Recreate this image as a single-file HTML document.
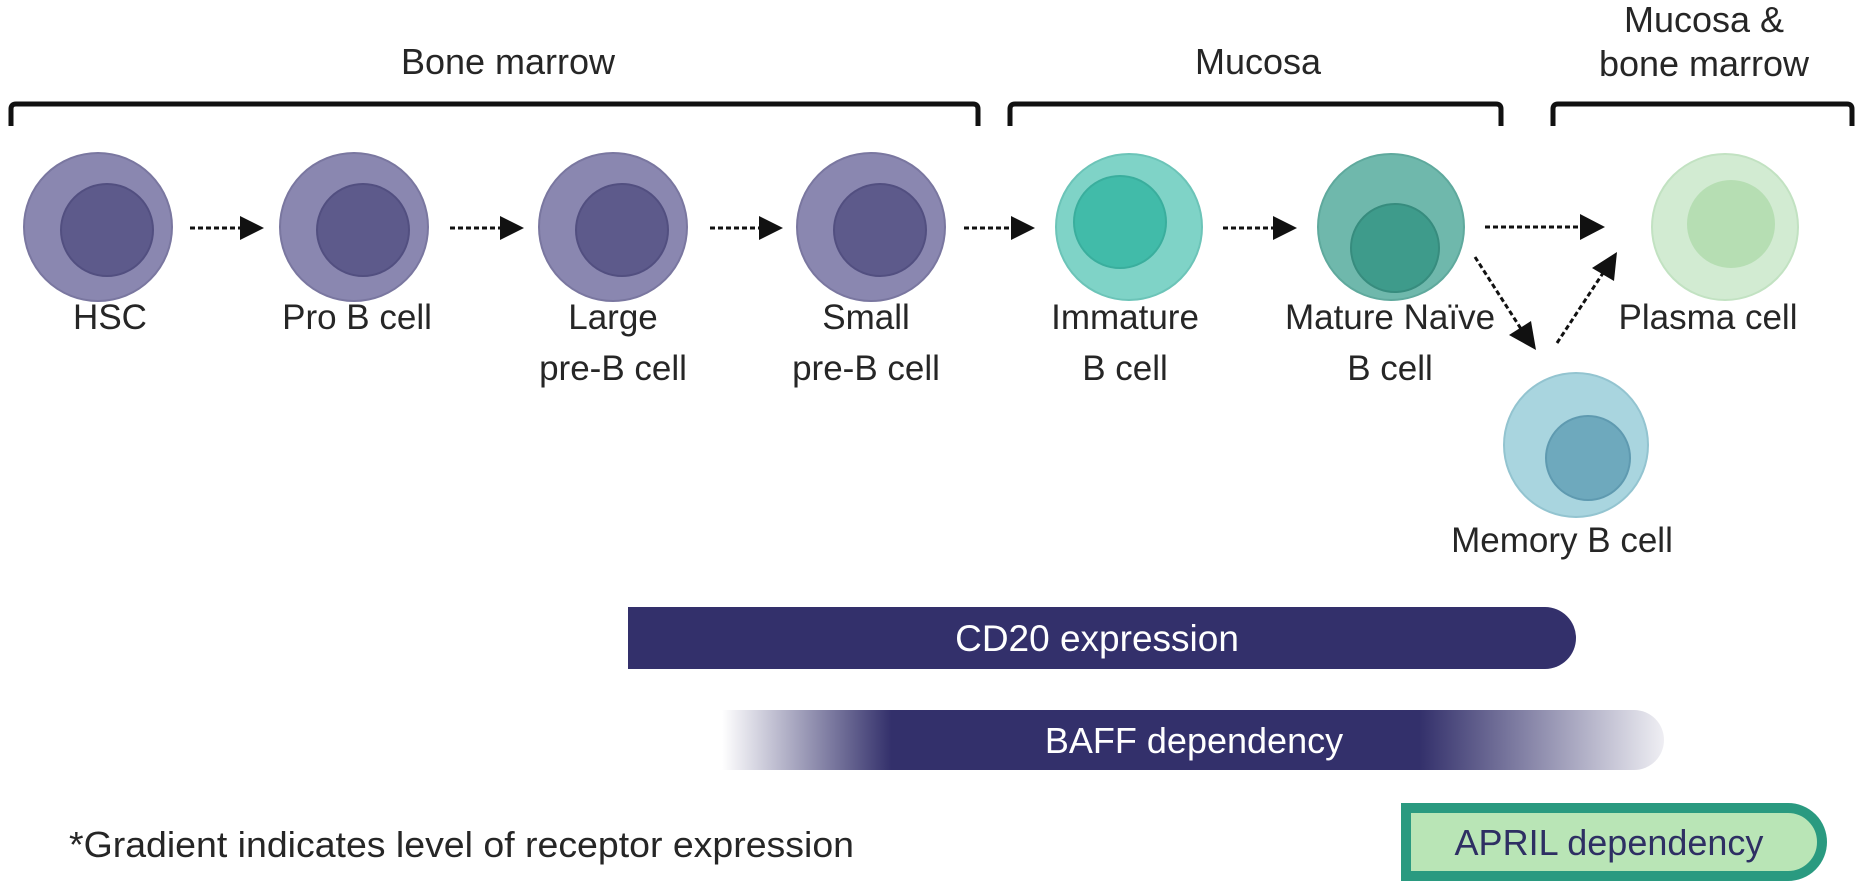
<!DOCTYPE html>
<html><head><meta charset="utf-8"><style>
html,body{margin:0;padding:0;background:#fff;}
svg{display:block;}
text{font-family:"Liberation Sans",Arial,sans-serif;fill:#262626;}
</style></head><body>
<svg width="1857" height="892" viewBox="0 0 1857 892" xmlns="http://www.w3.org/2000/svg">
<defs>
<linearGradient id="baff" x1="722" y1="0" x2="1664" y2="0" gradientUnits="userSpaceOnUse">
<stop offset="0" stop-color="#33306b" stop-opacity="0"/>
<stop offset="0.18" stop-color="#33306b" stop-opacity="1"/>
<stop offset="0.74" stop-color="#33306b" stop-opacity="1"/>
<stop offset="1" stop-color="#33306b" stop-opacity="0.08"/>
</linearGradient>
</defs>
<!-- brackets -->
<g fill="none" stroke="#111" stroke-width="5">
<path d="M11,126 V109 Q11,104 16,104 H973 Q978,104 978,109 V126"/>
<path d="M1010,126 V109 Q1010,104 1015,104 H1496 Q1501,104 1501,109 V126"/>
<path d="M1553,126 V109 Q1553,104 1558,104 H1847 Q1852,104 1852,109 V126"/>
</g>
<g font-size="36" text-anchor="middle">
<text x="508" y="74">Bone marrow</text>
<text x="1258" y="74">Mucosa</text>
<text x="1704" y="32">Mucosa &amp;</text>
<text x="1704" y="76">bone marrow</text>
</g>
<!-- cells -->
<g stroke-width="2">
<circle cx="98" cy="227" r="74" fill="#8a87b0" stroke="#7a77a0"/>
<circle cx="107" cy="230" r="46" fill="#5d5a8b" stroke="#524f80"/>
<circle cx="354" cy="227" r="74" fill="#8a87b0" stroke="#7a77a0"/>
<circle cx="363" cy="230" r="46" fill="#5d5a8b" stroke="#524f80"/>
<circle cx="613" cy="227" r="74" fill="#8a87b0" stroke="#7a77a0"/>
<circle cx="622" cy="230" r="46" fill="#5d5a8b" stroke="#524f80"/>
<circle cx="871" cy="227" r="74" fill="#8a87b0" stroke="#7a77a0"/>
<circle cx="880" cy="230" r="46" fill="#5d5a8b" stroke="#524f80"/>
<circle cx="1129" cy="227" r="73" fill="#7fd3c7" stroke="#6cc4b8"/>
<circle cx="1120" cy="222" r="46" fill="#41bba9" stroke="#3aae9d"/>
<circle cx="1391" cy="227" r="73" fill="#6fb8ac" stroke="#5fa99d"/>
<circle cx="1395" cy="248" r="44" fill="#3e9b8b" stroke="#378c7e"/>
<circle cx="1725" cy="227" r="73" fill="#d2ebd2" stroke="#c2e2c2"/>
<circle cx="1731" cy="224" r="44" fill="#b6deb3"/>
<circle cx="1576" cy="445" r="72" fill="#a9d5df" stroke="#93c4d0"/>
<circle cx="1588" cy="458" r="42" fill="#6ea9bd" stroke="#5f9ab0"/>
</g>
<!-- arrows -->
<g stroke="#111" stroke-width="3" stroke-dasharray="5,3" fill="none">
<line x1="190" y1="228" x2="242" y2="228"/>
<line x1="450" y1="228" x2="502" y2="228"/>
<line x1="710" y1="228" x2="761" y2="228"/>
<line x1="964" y1="228" x2="1013" y2="228"/>
<line x1="1223" y1="228" x2="1275" y2="228"/>
<line x1="1485" y1="227" x2="1583" y2="227"/>
<line x1="1475" y1="257" x2="1523" y2="332"/>
<line x1="1557" y1="343" x2="1605" y2="270"/>
</g>
<g fill="#111">
<polygon points="240,216 264,228 240,240"/>
<polygon points="500,216 524,228 500,240"/>
<polygon points="759,216 783,228 759,240"/>
<polygon points="1011,216 1035,228 1011,240"/>
<polygon points="1273,216 1297,228 1273,240"/>
<polygon points="1580,214 1605,227 1580,240"/>
<polygon points="1536,350 1509,335 1531,321"/>
<polygon points="1617,252 1592,268 1614,281"/>
</g>
<!-- labels -->
<g font-size="35" text-anchor="middle">
<text x="110" y="329">HSC</text>
<text x="357" y="329">Pro B cell</text>
<text x="613" y="329">Large</text>
<text x="613" y="380">pre-B cell</text>
<text x="866" y="329">Small</text>
<text x="866" y="380">pre-B cell</text>
<text x="1125" y="329">Immature</text>
<text x="1125" y="380">B cell</text>
<text x="1390" y="329">Mature Naïve</text>
<text x="1390" y="380">B cell</text>
<text x="1708" y="329">Plasma cell</text>
<text x="1562" y="552">Memory B cell</text>
</g>
<!-- bars -->
<path d="M628,607 H1545 A31,31 0 0 1 1545,669 H628 Z" fill="#33306b"/>
<text x="1097" y="651" font-size="37" text-anchor="middle" style="fill:#fff">CD20 expression</text>
<path d="M722,710 H1634 A30,30 0 0 1 1634,770 H722 Z" fill="url(#baff)"/>
<text x="1194" y="753" font-size="36" text-anchor="middle" style="fill:#fff">BAFF dependency</text>
<path d="M1406,808 H1788 A34,34 0 0 1 1788,876 H1406 Z" fill="#b9e5b6" stroke="#2a9a80" stroke-width="10"/>
<text x="1609" y="855" font-size="36" text-anchor="middle" style="fill:#2e2f63">APRIL dependency</text>
<text x="69" y="857" font-size="36" textLength="785" lengthAdjust="spacingAndGlyphs">*Gradient indicates level of receptor expression</text>
</svg>
</body></html>
